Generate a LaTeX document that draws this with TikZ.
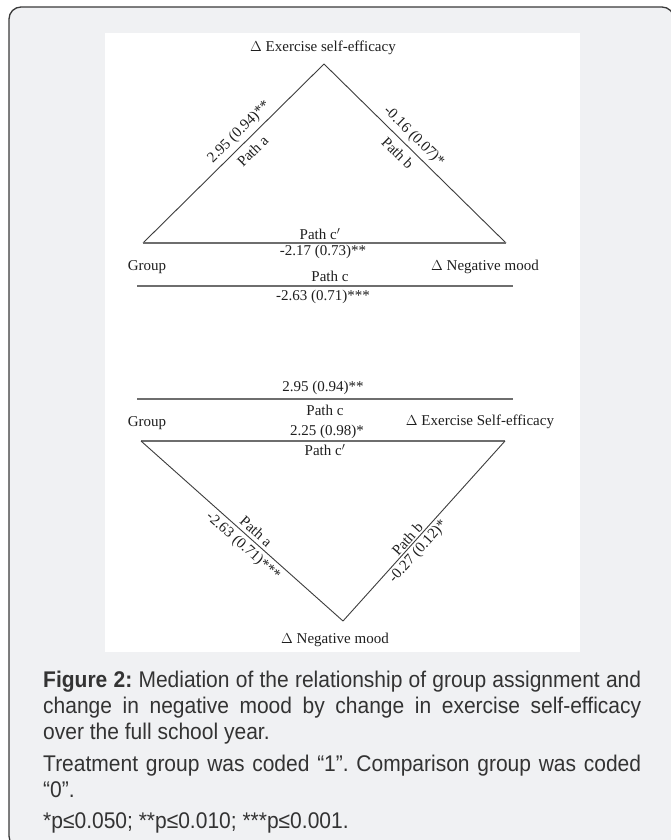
\documentclass[tikz,border=0pt]{standalone}
\usepackage{fontspec}
\setmainfont{Liberation Serif}
\newfontfamily\capfont{Liberation Sans}
\definecolor{bggray}{HTML}{F0F1F3}
\definecolor{framegray}{HTML}{3A3A3A}
\definecolor{captext}{HTML}{333333}
\definecolor{edgecol}{HTML}{3C3C3C}
\definecolor{hcol}{HTML}{6E6E6E}
\newcommand{\capv}[1]{\scalebox{1}[1.08]{#1}}
\begin{document}
\frenchspacing
\begin{tikzpicture}[x=1pt,y=-1pt,
  lbl/.style={font=\fontsize{15}{17}\selectfont, text=black!88, inner sep=0pt},
  tri/.style={draw=edgecol, line width=0.9pt},
  hline/.style={draw=hcol, line width=1.8pt},
  capline/.style={font=\fontsize{21}{25}\capfont\frenchspacing, text=captext, anchor=base west, inner sep=0pt}]
\useasboundingbox (0,0) rectangle (670,840);
\path[fill=bggray, draw=framegray, line width=1.3pt, rounded corners=12pt] (9,7) rectangle (674,848);
\path[fill=white] (105,33) rectangle (580,652);

% ---- top diagram ----
\coordinate (T1) at (324,64);
\coordinate (L1) at (143,243);
\coordinate (R1) at (506,243);
\coordinate (C1a) at (137,286);
\coordinate (C1b) at (513,286);
\node[lbl] (ese1) at (323,48) {$\Delta$ Exercise self-efficacy};
\draw[tri] (L1) -- node[lbl, sloped, pos=0.575, above=4pt] (a1v) {2.95 (0.94)**}
                   node[lbl, sloped, pos=0.56, below=6pt] (a1p) {Path a} (T1);
\draw[tri] (T1) -- node[lbl, sloped, pos=0.45, above=4pt] (b1v) {-0.16 (0.07)*}
                   node[lbl, sloped, pos=0.45, below=6pt] (b1p) {Path b} (R1);
\draw[hline] (L1) -- (R1);
\draw[hline] (C1a) -- (C1b);
\node[lbl] (cp1) at (320,234) {Path c$'$};
\node[lbl] (cp1v) at (323,252) {-2.17 (0.73)**};
\node[lbl] (grp1) at (147,267) {Group};
\node[lbl] (nm1) at (485,267) {$\Delta$ Negative mood};
\node[lbl] (c1) at (330,276) {Path c};
\node[lbl] (c1v) at (323,297) {-2.63 (0.71)***};

% ---- bottom diagram ----
\coordinate (L2) at (141,441);
\coordinate (R2) at (505,441);
\coordinate (B2) at (343,621);
\coordinate (C2a) at (137,399);
\coordinate (C2b) at (513,399);
\draw[hline] (C2a) -- (C2b);
\draw[hline] (L2) -- (R2);
\node[lbl] (c2v) at (323,388) {2.95 (0.94)**};
\node[lbl] (c2) at (325,410) {Path c};
\node[lbl] (grp2) at (147,423) {Group};
\node[lbl] (ese2) at (480,422) {$\Delta$ Exercise Self-efficacy};
\node[lbl] (cp2v) at (327,432) {2.25 (0.98)*};
\node[lbl] (cp2) at (325,450) {Path c$'$};
\draw[tri] (L2) -- node[lbl, sloped, pos=0.54, above=3.5pt] (a2p) {Path a}
                   node[lbl, sloped, pos=0.54, below=3.5pt] (a2v) {-2.63 (0.71)***} (B2);
\draw[tri] (B2) -- node[lbl, sloped, pos=0.43, above=1.5pt] (b2p) {Path b}
                   node[lbl, sloped, pos=0.42, below=2.5pt] (b2v) {-0.27 (0.12)*} (R2);
\node[lbl] (nm2) at (335,640) {$\Delta$ Negative mood};

% ---- caption ----
\node[capline] (cap1) at (43,687) {\capv{\makebox[598pt][s]{\textbf{Figure 2:} Mediation of the relationship of group assignment and}}};
\node[capline] (cap2) at (43,713) {\capv{\makebox[598pt][s]{change in negative mood by change in exercise self-efficacy}}};
\node[capline] (cap3) at (43,739) {\capv{over the full school year.}};
\node[capline] (cap4) at (43,771) {\capv{\makebox[598pt][s]{Treatment group was coded “1”. Comparison group was coded}}};
\node[capline] (cap5) at (43,797) {\capv{“0”.}};
\node[capline] (cap6) at (43,828) {\capv{*p≤0.050; **p≤0.010; ***p≤0.001.}};
\end{tikzpicture}
\end{document}
